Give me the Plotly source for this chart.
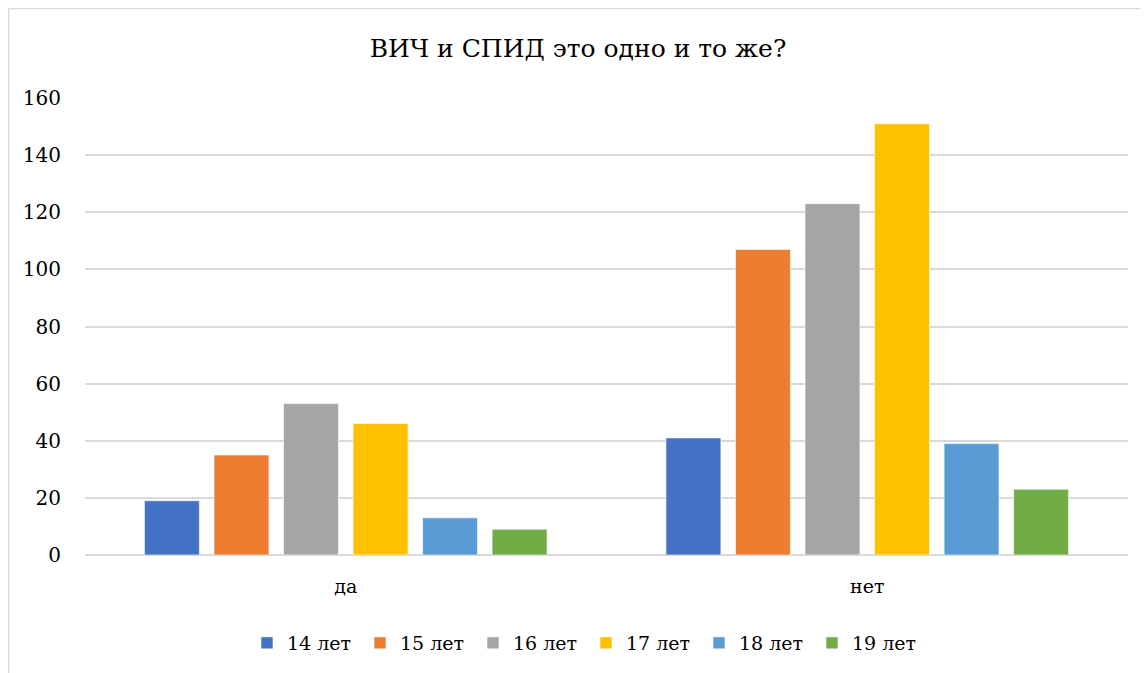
import plotly.graph_objects as go

categories = ["да", "нет"]
series_names = ["14 лет", "15 лет", "16 лет", "17 лет", "18 лет", "19 лет"]
values = [
    [19, 41],
    [35, 107],
    [53, 123],
    [46, 151],
    [13, 39],
    [9, 23],
]
colors = ["#4472C4", "#ED7D31", "#A5A5A5", "#FFC000", "#5B9BD5", "#70AD47"]
y_ticks = [0, 20, 40, 60, 80, 100, 120, 140, 160]

OFF = 8  # default page body margin
W, H = 1148 - OFF, 673 - OFF
L, R, T = 85 - OFF, 20, 98 - OFF
ph = 457
B = H - T - ph
pw = W - L - R

SERIF = "DejaVu Serif"

fig = go.Figure()
for name, vals, col in zip(series_names, values, colors):
    fig.add_trace(go.Bar(
        x=categories, y=vals, name=name,
        marker=dict(color=col, line=dict(color="rgba(255,255,255,0.6)", width=1)),
    ))

fig.update_layout(
    width=W, height=H,
    margin=dict(l=L, r=R, t=T, b=B, autoexpand=False),
    paper_bgcolor="white", plot_bgcolor="white",
    font=dict(family=SERIF, size=20, color="#000000"),
    title=dict(text="ВИЧ и СПИД это одно и то же?", x=0.5, xanchor="center",
               y=1 - (48 - OFF) / H, yanchor="middle",
               font=dict(family=SERIF, size=25)),
    barmode="group", bargap=0.2, bargroupgap=0.21,
    showlegend=True,
    legend=dict(orientation="h", x=(586 - 85) / pw, xanchor="center",
                y=-(643 - 555) / ph, yanchor="middle",
                font=dict(family=SERIF, size=19), itemwidth=30,
                entrywidth=68, entrywidthmode="pixels", traceorder="normal"),
    xaxis=dict(showline=False, ticks="", tickfont=dict(family=SERIF, size=19),
               ticklabelstandoff=18, automargin=False),
    yaxis=dict(range=[0, 160], tickvals=y_ticks, showgrid=True, gridcolor="#D9D9D9",
               gridwidth=1.5, zeroline=True, zerolinecolor="#D9D9D9", zerolinewidth=1.5,
               showline=False, ticks="", tickfont=dict(family=SERIF, size=20),
               ticklabelstandoff=23, automargin=False),
    shapes=[
        dict(type="line", xref="paper", yref="paper",
             x0=(0.5 - L) / pw, x1=(0.5 - L) / pw, y0=-(H - T - ph) / ph, y1=1 + (T - 0.5) / ph,
             line=dict(color="#D9D9D9", width=1.5)),
        dict(type="line", xref="paper", yref="paper",
             x0=(0.5 - L) / pw, x1=(W - L) / pw, y0=1 + (T - 0.5) / ph, y1=1 + (T - 0.5) / ph,
             line=dict(color="#D9D9D9", width=1.5)),
    ],
)
fig.write_html("out.html")
